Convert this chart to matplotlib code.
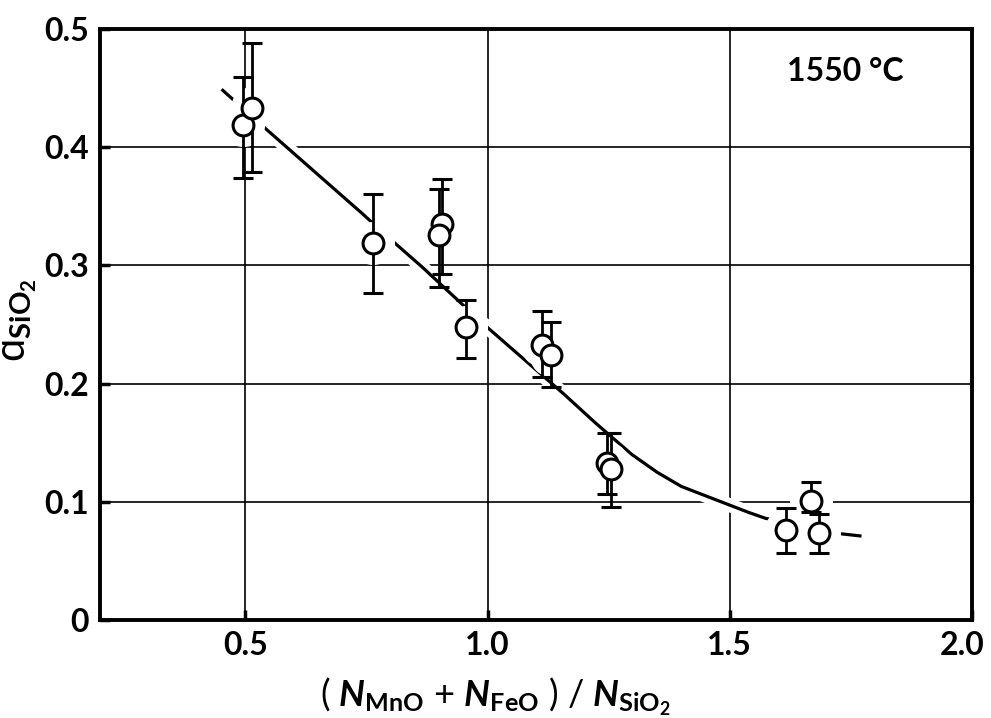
import matplotlib
matplotlib.use("Agg")
import matplotlib.pyplot as plt
import matplotlib.patheffects as pe
import matplotlib.transforms as mtransforms
import numpy as np

# ---------------- DATOS ----------------
ratio = [0.496, 0.514, 0.763, 0.907, 0.899, 0.955, 1.113, 1.130,
         1.247, 1.255, 1.617, 1.667, 1.685]
a_sio2 = [0.419, 0.433, 0.319, 0.335, 0.326, 0.248, 0.233, 0.224,
          0.133, 0.128, 0.076, 0.101, 0.074]
err_lo = [0.374, 0.379, 0.277, 0.293, 0.282, 0.222, 0.206, 0.197,
          0.107, 0.096, 0.057, 0.091, 0.057]
err_hi = [0.459, 0.488, 0.360, 0.373, 0.365, 0.271, 0.261, 0.252,
          0.158, 0.158, 0.095, 0.117, 0.090]

# curva dibujada a mano
curve_x = [0.451, 0.541, 0.741, 0.800, 0.864, 0.990, 1.074, 1.158,
           1.222, 1.298, 1.350, 1.400, 1.539, 1.574, 1.728, 1.772]
curve_y = [0.449, 0.416, 0.344, 0.322, 0.299, 0.251, 0.221, 0.191,
           0.167, 0.140, 0.125, 0.113, 0.091, 0.086, 0.073, 0.071]

x_ticks = [0.5, 1.0, 1.5, 2.0]
x_labels = ["0.5", "1.0", "1.5", "2.0"]
y_ticks = [0, 0.1, 0.2, 0.3, 0.4, 0.5]
y_labels = ["0", "0.1", "0.2", "0.3", "0.4", "0.5"]

# ---------------- ESTILO ----------------
plt.rcParams['font.family'] = ['Lato', 'DejaVu Sans']
plt.rcParams['mathtext.fontset'] = 'custom'
plt.rcParams['mathtext.rm'] = 'Lato:bold'
plt.rcParams['mathtext.it'] = 'Lato:italic:bold'

fig = plt.figure(figsize=(9.91, 7.18), dpi=100)
ax = fig.add_axes([0.1009, 0.1365, 0.8799, 0.8231])

ax.set_xlim(0.2, 2.0)
ax.set_ylim(0, 0.5)

# rejilla
for xv in x_ticks[:-1]:
    ax.axvline(xv, color='black', lw=1.2, zorder=0)
for yv in y_ticks[1:-1]:
    ax.axhline(yv, color='black', lw=1.2, zorder=0)

# curva con borde blanco (corta la rejilla)
ax.plot(curve_x, curve_y, color='black', lw=2.3, solid_capstyle='butt', zorder=2,
        path_effects=[pe.Stroke(linewidth=10, foreground='white'), pe.Normal()])

# halo blanco alrededor de los puntos
ax.plot(ratio, a_sio2, 'o', ms=30, mfc='white', mec='white', ls='none', zorder=3)

# puntos con barras de error
y = np.array(a_sio2)
yerr = [y - np.array(err_lo), np.array(err_hi) - y]
ax.errorbar(ratio, a_sio2, yerr=yerr, fmt='o', ms=15, mfc='white', mec='black',
            mew=2.2, ecolor='black', elinewidth=2.0, capsize=7, capthick=2.0,
            zorder=4)

ax.text(1.739, 0.464, "1550 °C", fontsize=23, fontweight='bold',
        ha='center', va='center')

# ejes
ax.set_xticks(x_ticks)
ax.set_xticklabels(x_labels, fontsize=23, fontweight='bold')
ax.set_yticks(y_ticks)
ax.set_yticklabels(y_labels, fontsize=23, fontweight='bold')
ax.tick_params(direction='in', length=7, width=2.5, pad=8)
for s in ax.spines.values():
    s.set_linewidth(2.8)

# el ultimo rotulo un poco a la izquierda para que no se corte
ultimo = ax.get_xticklabels()[-1]
ultimo.set_transform(ultimo.get_transform() +
                     mtransforms.ScaledTranslation(-0.1, 0, fig.dpi_scale_trans))

ax.set_xlabel(r"( $N_{\mathrm{MnO}}$ + $N_{\mathrm{FeO}}$ ) / $N_{\mathrm{SiO_2}}$",
              fontsize=26)
ax.xaxis.set_label_coords(0.453, -0.093)
ax.set_ylabel(r"ɑ$_{\mathrm{SiO_2}}$", fontsize=30)
ax.yaxis.set_label_coords(-0.07, 0.508)

fig.savefig("out.png", dpi=100)
